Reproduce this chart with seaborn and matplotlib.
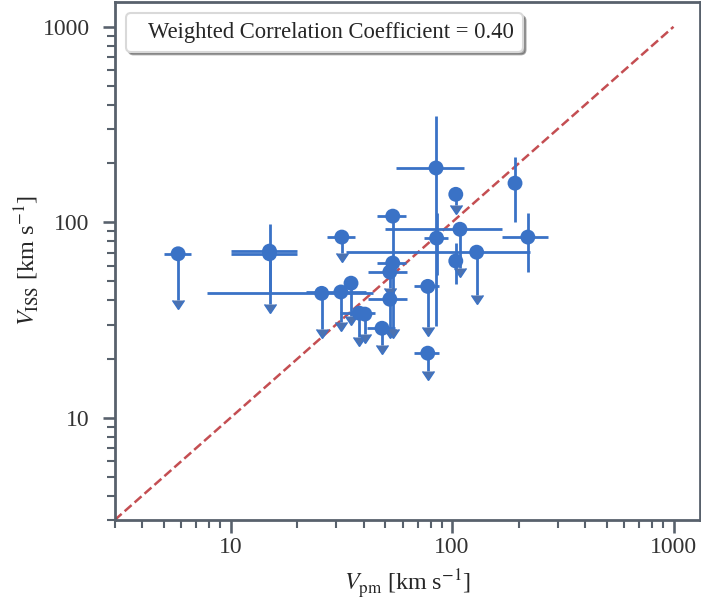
import numpy as np
import pandas as pd
import matplotlib
matplotlib.use("Agg")
import matplotlib.pyplot as plt
import matplotlib.ticker as mticker
from matplotlib.lines import Line2D
import seaborn as sns

# Proper-motion velocities and scintillation velocities (km/s)
v_pm = [5.8, 15.0, 15.0, 31.8, 25.8, 31.5, 35.0, 38.1, 40.4, 48.3, 52.4, 52.4,
        54.0, 54.0, 84.7, 85.2, 108.6, 104.0, 104.0, 129.2, 192.5, 220.0, 77.7, 77.7]
v_pm_err = [0.8, 4.9, 4.9, 4.6, 18.0, 9.5, 0.0, 6.8, 0.0, 7.0, 10.5, 10.5,
            8.0, 8.0, 29.0, 10.5, 59.0, 0.0, 0.0, 96.0, 0.0, 52.0, 10.0, 10.0]
v_iss = [69.0, 71.2, 69.0, 84.0, 43.3, 44.0, 48.8, 34.3, 33.9, 28.7, 40.4, 55.7,
         61.9, 107.5, 189.6, 83.0, 92.1, 139.0, 63.4, 70.3, 158.5, 84.0, 47.0, 21.4]
v_iss_err = [29.0, 27.0, 31.0, 14.0, 15.0, 13.0, 15.6, 8.4, 7.0, 5.2, 12.0, 9.7,
             0.0, 79.0, 160.0, 29.0, 34.0, 17.0, 15.0, 28.0, 58.0, 28.0, 18.0, 4.1]
is_upper_limit = [1, 0, 1, 1, 1, 1, 1, 1, 1, 1, 1, 1,
                  0, 1, 0, 0, 1, 1, 0, 1, 0, 0, 1, 1]

corr_label = "Weighted Correlation Coefficient = 0.40"
one_to_one = [3, 1000]

sns.set_theme(context="talk", style="ticks")
plt.rcParams["font.family"] = ["Liberation Serif", "DejaVu Serif"]
plt.rcParams["mathtext.fontset"] = "stix"

df = pd.DataFrame({"v_pm": v_pm, "v_pm_err": v_pm_err, "v_iss": v_iss,
                   "v_iss_err": v_iss_err, "upper": np.array(is_upper_limit, bool)})

blue = "#3a72c6"
red = "#c44e52"
spine_col = "#58616c"

fig = plt.figure(figsize=(7.01, 6.02), dpi=100)
ax = fig.add_axes([114.7 / 701, 82 / 602, (700 - 114.7) / 701, 518 / 602])

ax.errorbar(df["v_pm"], df["v_iss"], xerr=df["v_pm_err"], yerr=df["v_iss_err"],
            uplims=df["upper"].values, fmt="none", ecolor=blue, elinewidth=2,
            capsize=0, zorder=2)
sns.scatterplot(data=df, x="v_pm", y="v_iss", ax=ax, color=blue, s=115,
                edgecolor="none", zorder=3, legend=False)

ax.plot(one_to_one, one_to_one, ls="--", color=red, lw=1.8, zorder=1)

ax.set_xscale("log")
ax.set_yscale("log")
ax.set_xlim(3, 1317)
ax.set_ylim(3, 1339)

fmt = mticker.FuncFormatter(lambda v, p: f"{v:g}")
for axis in (ax.xaxis, ax.yaxis):
    axis.set_major_locator(mticker.LogLocator(base=10))
    axis.set_major_formatter(fmt)
    axis.set_minor_formatter(mticker.NullFormatter())

ax.set_xlabel(r"$V_{\rm pm}$ [km s$^{-1}$]", fontsize=17.3, labelpad=7)
ax.set_ylabel(r"$V_{\rm ISS}$ [km s$^{-1}$]", fontsize=17.5, labelpad=1)
ax.tick_params(which="both", colors=spine_col, labelcolor="#333333",
               labelsize=17)
ax.tick_params(axis="y", which="major", pad=9)
for sp in ax.spines.values():
    sp.set_color(spine_col)
    sp.set_linewidth(2)
    sp.set_visible(True)

handle = Line2D([], [], linestyle="none")
ax.legend([handle], [corr_label], loc="upper left", handlelength=0,
          handletextpad=0.6, borderpad=0.38, shadow=True, fancybox=True,
          framealpha=1, edgecolor="0.85", fontsize=16.3)

fig.savefig("out.png", dpi=100)
